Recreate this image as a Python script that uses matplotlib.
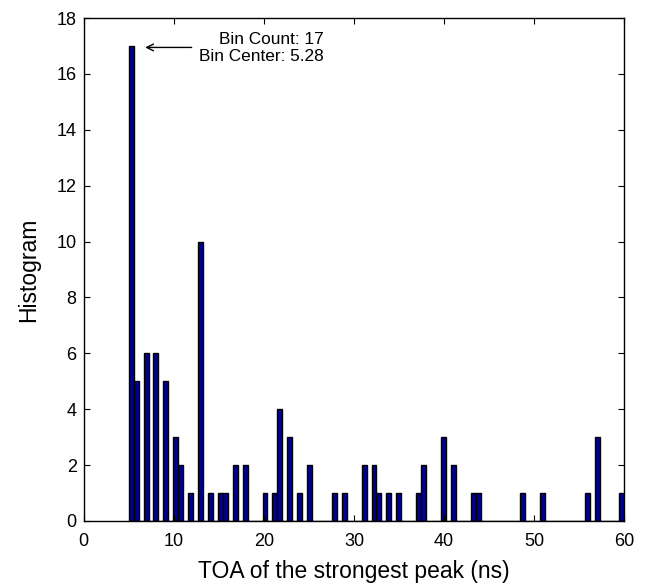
import matplotlib
matplotlib.use("Agg")
import matplotlib.pyplot as plt
import numpy as np

plt.rcParams['font.family'] = ['Liberation Sans', 'DejaVu Sans']

# histogram counts, 100 bins of width 0.55 starting at 5.005 ns
bin_start = 5.005
bin_width = 0.55
counts = [17, 5, 0, 6, 0, 6, 0, 5, 0, 3,
          2, 0, 1, 0, 10, 0, 1, 0, 1, 1,
          0, 2, 0, 2, 0, 0, 0, 1, 0, 1,
          4, 0, 3, 0, 1, 0, 2, 0, 0, 0,
          0, 1, 0, 1, 0, 0, 0, 2, 0, 2,
          1, 0, 1, 0, 1, 0, 0, 0, 1, 2,
          0, 0, 0, 3, 0, 2, 0, 0, 0, 1,
          1, 0, 0, 0, 0, 0, 0, 0, 0, 1,
          0, 0, 0, 1, 0, 0, 0, 0, 0, 0,
          0, 0, 1, 0, 3, 0, 0, 0, 0, 1]
x_ticks = [0, 10, 20, 30, 40, 50, 60]
y_ticks = [0, 2, 4, 6, 8, 10, 12, 14, 16, 18]
peak_count = 17
peak_center = 5.28

edges = bin_start + bin_width * np.arange(len(counts))

fig = plt.figure(figsize=(6.53, 5.84), dpi=100)
ax = fig.add_axes([0.128, 0.108, 0.828, 0.861])

ax.bar(edges, counts, width=bin_width, align='edge',
       color='#00008F', edgecolor='black', linewidth=1.0)

ax.set_xlim(0, 60)
ax.set_ylim(0, 18)
ax.set_xticks(x_ticks)
ax.set_yticks(y_ticks)
ax.tick_params(direction='in', top=True, right=True, length=4, width=0.8,
               labelsize=13)
ax.tick_params(axis='x', pad=9)
ax.tick_params(axis='y', pad=5)
for s in ax.spines.values():
    s.set_linewidth(1.0)

ax.set_xlabel('TOA of the strongest peak (ns)', fontsize=16.5, labelpad=7)
ax.set_ylabel('Histogram', fontsize=16.5, labelpad=12)

# data tip style label
ax.annotate('', xy=(peak_center + 1.25, peak_count - 0.05),
            xytext=(12.3, peak_count - 0.05),
            arrowprops=dict(arrowstyle='->', color='black', lw=1.0,
                            mutation_scale=12))
ax.text(26.6, peak_count - 0.07,
        f'Bin Count: {peak_count}\nBin Center: {peak_center}',
        ha='right', va='center', multialignment='right', fontsize=12.4,
        linespacing=1.1)

fig.savefig('out.png', dpi=100)
